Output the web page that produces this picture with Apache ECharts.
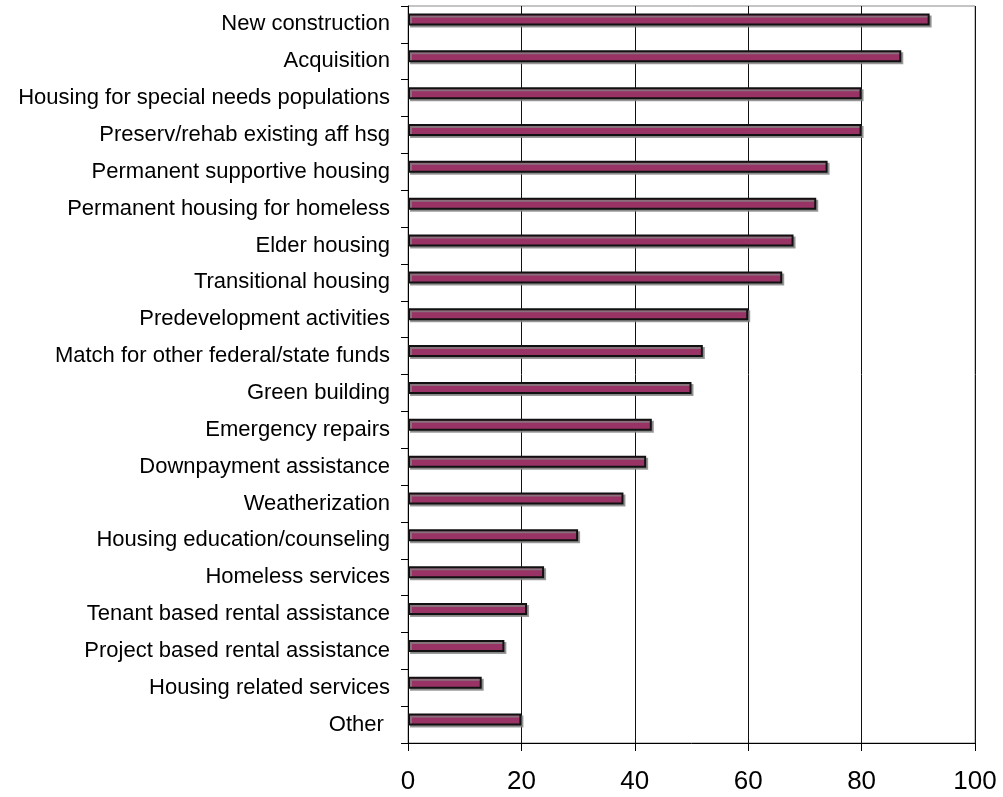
<!DOCTYPE html>
<html>
<head>
<meta charset="utf-8">
<script src="https://cdn.jsdelivr.net/npm/echarts@6/dist/echarts.min.js"></script>
<style>
html,body{margin:0;padding:0;background:#fff;}
#chart{width:1003px;height:797px;}
</style>
</head>
<body>
<div id="chart"></div>
<script>
const categories = [
  "New construction",
  "Acquisition",
  "Housing for special needs populations",
  "Preserv/rehab existing aff hsg",
  "Permanent supportive housing",
  "Permanent housing for homeless",
  "Elder housing",
  "Transitional housing",
  "Predevelopment activities",
  "Match for other federal/state funds",
  "Green building",
  "Emergency repairs",
  "Downpayment assistance",
  "Weatherization",
  "Housing education/counseling",
  "Homeless services",
  "Tenant based rental assistance",
  "Project based rental assistance",
  "Housing related services",
  "Other "
];
const values = [92, 87, 80, 80, 74, 72, 68, 66, 60, 52, 50, 43, 42, 38, 30, 24, 21, 17, 13, 20];
const xTicks = [0, 20, 40, 60, 80, 100];

const chart = echarts.init(document.getElementById('chart'), null, {renderer: 'canvas'});
chart.setOption({
  animation: false,
  backgroundColor: '#ffffff',
  grid: {
    left: 408, right: 28, top: 6, bottom: 54,
    show: true, borderColor: '#8a8a8a', borderWidth: 1, backgroundColor: 'transparent'
  },
  xAxis: {
    type: 'value',
    min: xTicks[0], max: xTicks[xTicks.length - 1], interval: 20,
    axisLine: {show: true, lineStyle: {color: '#000', width: 1}},
    axisTick: {show: true, length: 8, lineStyle: {color: '#000'}},
    axisLabel: {fontFamily: 'Liberation Sans, Arial, sans-serif', fontSize: 26, color: '#000', margin: 26},
    splitLine: {show: true, lineStyle: {color: '#111', width: 1}}
  },
  yAxis: {
    type: 'category',
    data: categories,
    inverse: true,
    axisLine: {show: true, lineStyle: {color: '#000', width: 1}},
    axisTick: {show: true, length: 7, lineStyle: {color: '#000'}},
    axisLabel: {fontFamily: 'Liberation Sans, Arial, sans-serif', fontSize: 22, color: '#000', margin: 18},
    splitLine: {show: false}
  },
  series: [
    {
      type: 'bar',
      data: values,
      barWidth: 12,
      barGap: '-17%',
      itemStyle: {
        color: '#993366',
        borderColor: '#111',
        borderWidth: 2,
        shadowColor: 'rgba(130,130,130,0.8)',
        shadowOffsetX: 2,
        shadowOffsetY: 2,
        shadowBlur: 0
      }
    },
    {
      type: 'bar',
      data: values.map(() => '-'),
      barWidth: 12
    }
  ]
});
</script>
</body>
</html>
